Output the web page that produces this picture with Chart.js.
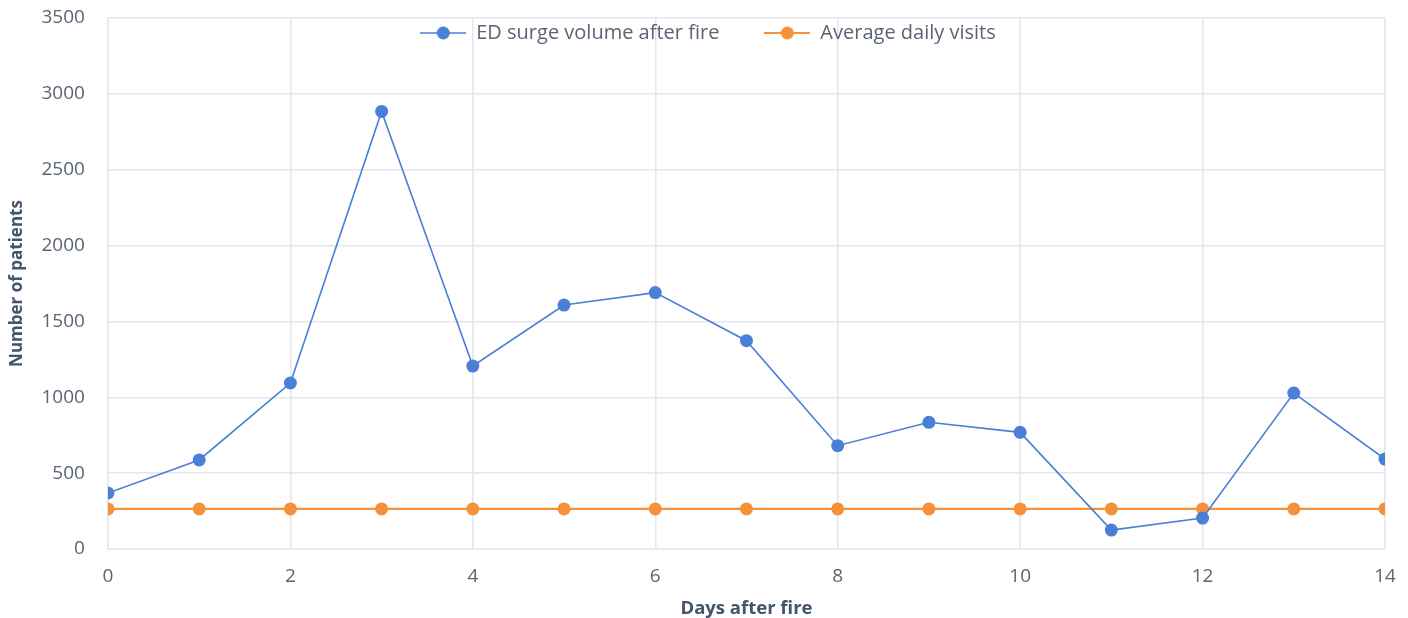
<!DOCTYPE html>
<html>
<head>
<meta charset="utf-8">
<script src="https://cdn.jsdelivr.net/npm/chart.js@4.4.1/dist/chart.umd.min.js"></script>
<style>
  html, body { margin: 0; padding: 0; background: #fff; }
  #wrap { width: 1408px; height: 618px; }
</style>
</head>
<body>
<div id="wrap"><canvas id="grafico"></canvas></div>
<script>
// data
const dias = [0, 1, 2, 3, 4, 5, 6, 7, 8, 9, 10, 11, 12, 13, 14];
const surto = [369, 587, 1094, 2884, 1206, 1608, 1690, 1373, 681, 835, 769, 125, 204, 1028, 593];
const mediaDiaria = [264, 264, 264, 264, 264, 264, 264, 264, 264, 264, 264, 264, 264, 264, 264];
const nomes = ['ED surge volume after fire', 'Average daily visits'];
const cores = ['#4a7fd6', '#f5913a'];

const corTexto = '#5a6474';
const corTitulo = '#44546a';
const corGrade = '#e2e7ee';

// legend marker: short line with a dot in the middle
function marcador(cor, largura) {
  const c = document.createElement('canvas');
  c.width = 46; c.height = 14;
  const g = c.getContext('2d');
  g.strokeStyle = cor;
  g.lineWidth = largura;
  g.beginPath(); g.moveTo(0, 7); g.lineTo(46, 7); g.stroke();
  g.fillStyle = cor;
  g.beginPath(); g.arc(23, 7, 6.5, 0, Math.PI * 2); g.fill();
  return c;
}

const pontos = (ys) => dias.map((d, i) => ({ x: d, y: ys[i] }));

// legend sits on top of the plot instead of taking its own row
const legendaSobre = {
  id: 'legendaSobre',
  beforeInit(chart) {
    const fitOrig = chart.legend.fit;
    chart.legend.fit = function () {
      fitOrig.bind(chart.legend)();
      this.height = 0;
    };
  },
  beforeDraw(chart) {
    const lg = chart.legend;
    lg.top = -22;
    lg.bottom = 60;
    lg.height = 82;
    lg.left = 31;
    lg.right = 1385;
    lg.width = lg.right - lg.left;
  }
};

// the tick padding should not push the plot edges in
const semFolga = (escala) => {
  escala.paddingTop = 0;
  escala.paddingBottom = 0;
  escala.paddingLeft = 0;
  escala.paddingRight = 0;
};

const ctx = document.getElementById('grafico').getContext('2d');

new Chart(ctx, {
  type: 'line',
  data: {
    datasets: [{
      label: nomes[0],
      data: pontos(surto),
      borderColor: cores[0],
      backgroundColor: cores[0],
      borderWidth: 1.6,
      pointRadius: 6.5,
      pointHoverRadius: 6.5,
      pointBorderWidth: 0,
      tension: 0
    }, {
      label: nomes[1],
      data: pontos(mediaDiaria),
      borderColor: cores[1],
      backgroundColor: cores[1],
      borderWidth: 2.2,
      pointRadius: 6.5,
      pointHoverRadius: 6.5,
      pointBorderWidth: 0,
      tension: 0
    }]
  },
  options: {
    responsive: true,
    maintainAspectRatio: false,
    animation: false,
    layout: { padding: { top: 18, right: 23, left: 0, bottom: 0 } },
    scales: {
      x: {
        type: 'linear',
        min: 0,
        max: 14,
        afterFit: semFolga,
        ticks: { stepSize: 2, color: corTexto, font: { family: 'Open Sans', size: 19 }, padding: 16.5 },
        grid: { color: corGrade, lineWidth: 1.5, drawTicks: false },
        border: { color: corGrade, width: 1.5 },
        title: {
          display: true,
          text: 'Days after fire',
          color: corTitulo,
          font: { family: 'Open Sans', size: 18.5, weight: 'bold' },
          padding: { top: -6.9, bottom: -2.1 }
        }
      },
      y: {
        min: 0,
        max: 3500,
        afterFit: semFolga,
        ticks: {
          stepSize: 500,
          color: corTexto,
          font: { family: 'Open Sans', size: 19 },
          padding: 23,
          callback: (v) => String(v)
        },
        grid: { color: corGrade, lineWidth: 1.5, drawTicks: false },
        border: { color: corGrade, width: 1.5 },
        title: {
          display: true,
          text: 'Number of patients',
          color: corTitulo,
          font: { family: 'Open Sans', size: 17, weight: 'bold' },
          padding: { top: 6.8, bottom: -8.7 }
        }
      }
    },
    plugins: {
      legend: {
        position: 'top',
        labels: {
          color: corTexto,
          font: { family: 'Open Sans', size: 20 },
          usePointStyle: true,
          pointStyleWidth: 46,
          padding: 45,
          generateLabels(chart) {
            return chart.data.datasets.map((ds, i) => ({
              text: ds.label,
              fontColor: corTexto,
              pointStyle: marcador(cores[i], i === 0 ? 1.6 : 2.2),
              fillStyle: cores[i],
              strokeStyle: cores[i],
              lineWidth: 0,
              hidden: false,
              datasetIndex: i
            }));
          }
        }
      },
      tooltip: { enabled: false }
    }
  },
  plugins: [legendaSobre]
});
</script>
</body>
</html>
